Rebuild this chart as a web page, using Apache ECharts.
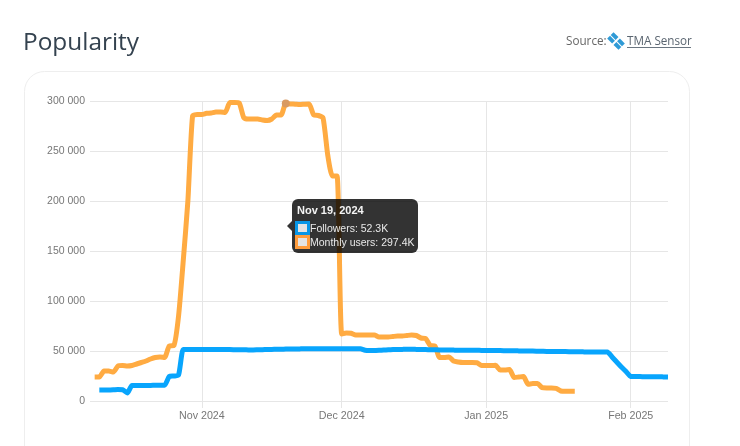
<!DOCTYPE html>
<html>
<head>
<meta charset="utf-8">
<style>html,body{margin:0;padding:0;background:#fff}#c{width:740px;height:446px}</style>
<script src="https://cdn.jsdelivr.net/npm/echarts@6/dist/echarts.min.js"></script>
</head>
<body>
<div id="c"></div>
<script>
const titleText = 'Popularity';
const sourceLabel = 'Source:';
const sourceName = 'TMA Sensor';
const seriesNames = ['Followers', 'Monthly users'];
const monthTicks = ['2024-11-01', '2024-12-01', '2025-01-01', '2025-02-01'];
const yTicks = [0, 50000, 100000, 150000, 200000, 250000, 300000];
const tipDate = '2024-11-19';
const tipTitle = 'Nov 19, 2024';
const tipFollowers = '52.3K';
const tipUsers = '297.4K';

const followersStart = '2024-10-10';
const followersK = [
  11,11,11,11.2,11.5,11.3,8,15.5,15.5,15.5,15.6,15.6,15.7,15.7,15.7,24.5,25,26,51.5,51.5,51.5,51.6,
  51.6,51.6,51.5,51.5,51.5,51.4,51.4,51.3,51.2,51.2,51.1,51.1,51.2,51.3,51.5,51.6,51.7,51.8,51.9,52,52,52.1,52.2,52.2,52.3,52.3,52.3,52.3,
  52.3,52.2,52.2,52.2,52.2,52.3,52.3,50.8,50.5,50.5,50.7,51,51.2,51.4,51.5,51.6,51.7,51.7,51.6,51.5,51.4,51.3,51.2,51.1,51.1,51,50.9,50.8,50.8,50.7,50.7,
  50.7,50.6,50.6,50.5,50.4,50.4,50.3,50.2,50.2,50.1,50,49.9,49.9,49.8,49.7,49.6,49.6,49.5,49.4,49.4,49.3,49.2,49.2,49.1,49,49,49,49,49,44,39,34,29.5,
  24.5,24.4,24.4,24.3,24.3,24.2,24.2,24.1,24
];

const usersStart = '2024-10-09';
const usersK = [
  24,24,30,30,29,35,35.5,35,35.5,37,38.5,40,42,43.5,44,43.5,55,55.5,85,140,200,285,286.5,
  286.5,287.7,288,289,289,288.5,298.5,298.5,298,283.3,282,282,282,281,280.5,282,286,286,297.4,297,296.8,296.5,296.8,297,286,285.5,283,246,225,225,
  67,68,67.7,66,66,66,66,66,64,64,64,64.5,65,65,65.5,66,65.5,63,62.5,55.5,55,43.5,43.5,44,40,39,38.5,38.5,38.5,38.3,35.5,
  35.5,35.5,35.7,31,31,31.5,23.5,24,24.5,16.7,17.5,17.5,13.3,13,13,12.7,10,9.7,9.7,9.7
];

function pairs(start, values) {
  const t0 = Date.parse(start + 'T00:00:00Z');
  return values.map((v, i) => [t0 + i * 86400000, v * 1000]);
}
const spaced = v => String(v).replace(/\B(?=(\d{3})+$)/g, ' ');
const monthFmt = new Intl.DateTimeFormat('en-US', {month: 'short', year: 'numeric', timeZone: 'UTC'});
const tickTimes = monthTicks.map(d => Date.parse(d + 'T00:00:00Z'));
const tipTime = Date.parse(tipDate + 'T00:00:00Z');
const usersData = pairs(usersStart, usersK);
const tipPoint = usersData.find(p => p[0] === tipTime);

const blue = '#0896e6';
const orange = '#ff9c3c';
const swatch = (c) => '<span style="display:inline-block;width:15px;height:14px;background:' + c +
  ';position:relative;vertical-align:top"><span style="position:absolute;left:3px;top:3px;width:9px;height:8px;background:#e4e4e4"></span></span>';

const chart = echarts.init(document.getElementById('c'), null, {renderer: 'canvas'});
const font = '"Liberation Sans", Arial, sans-serif';
const ui = '"Open Sans", sans-serif';
const iconColor = '#2f9ad6';
chart.setOption({
  animation: false,
  backgroundColor: '#fff',
  color: [blue, orange],
  title: {text: titleText, left: 18, top: 26, textStyle: {fontFamily: ui, fontWeight: 400, fontSize: 24.4, color: '#34424f'}},
  grid: {left: 90, right: 72, top: 101, bottom: 45},
  tooltip: {
    trigger: 'axis', alwaysShowContent: true, transitionDuration: 0, padding: 0, borderWidth: 0,
    backgroundColor: 'rgba(0,0,0,0)', extraCssText: 'box-shadow:none;',
    axisPointer: {type: 'none'},
    position: () => [292, 199],
    formatter: () => '<div style="position:relative;box-sizing:border-box;width:126px;height:54px;background:rgba(0,0,0,.8);border-radius:6px;color:#e8e8e8;font:10.5px/14px ' + font.replace(/"/g, "'") + ';padding:4px 5px">' +
      '<span style="position:absolute;left:-5px;top:22px;border:5px solid transparent;border-left:0;border-right-color:rgba(0,0,0,.8)"></span>' +
      '<div style="font-weight:700;font-size:11px;margin-bottom:4px;color:#f4f4f4">' + tipTitle + '</div>' +
      '<div style="white-space:nowrap;height:14px;margin-left:-2px">' + swatch(blue) + seriesNames[0] + ': ' + tipFollowers + '</div>' +
      '<div style="white-space:nowrap;height:14px;margin-left:-2px">' + swatch(orange) + seriesNames[1] + ': ' + tipUsers + '</div></div>'
  },
  xAxis: {
    type: 'value',
    min: Date.parse('2024-10-08T00:00:00Z'),
    max: Date.parse('2025-02-09T00:00:00Z'),
    axisLine: {show: false},
    axisTick: {show: true, length: 7, customValues: tickTimes, lineStyle: {color: '#e6e6e6'}},
    splitLine: {show: true, lineStyle: {color: '#e6e6e6', width: 1}},
    axisLabel: {customValues: tickTimes, color: '#777', fontFamily: font, fontSize: 10.7, margin: 10, hideOverlap: false,
      formatter: v => monthFmt.format(new Date(v))}
  },
  yAxis: {
    type: 'value', min: 0, max: 300000, interval: 50000,
    axisLine: {show: false}, axisTick: {show: false},
    splitLine: {lineStyle: {color: '#e6e6e6', width: 1}},
    axisLabel: {color: '#777', fontFamily: font, fontSize: 10.5, margin: 5,
      formatter: v => yTicks.includes(v) ? spaced(v) : ''}
  },
  series: [
    {name: seriesNames[0], type: 'line', data: pairs(followersStart, followersK), symbol: 'none', smooth: 0.2,
      lineStyle: {width: 5, color: blue, cap: 'butt', join: 'round'}, z: 3},
    {name: seriesNames[1], type: 'line', data: usersData, symbol: 'none', smooth: 0.2,
      lineStyle: {width: 5, color: orange, cap: 'butt', join: 'round'}, z: 2,
      markPoint: {silent: true, symbol: 'circle', symbolSize: 8, animation: false, label: {show: false},
        itemStyle: {color: '#d99a62'}, data: [{coord: tipPoint}]}}
  ],
  graphic: [
    {type: 'rect', silent: true, z: -10, shape: {x: 24.5, y: 71.5, width: 665, height: 420, r: 20},
      style: {fill: '#fff', stroke: '#eeeeee', lineWidth: 1}},
    {type: 'text', silent: true, left: 566, top: 36, style: {text: sourceLabel, fill: '#666', font: '11.7px ' + ui}},
    {type: 'text', silent: true, left: 627, top: 36, style: {text: sourceName, fill: '#5a6570', font: '11.7px ' + ui}},
    {type: 'line', silent: true, shape: {x1: 627, y1: 47.5, x2: 691, y2: 47.5}, style: {stroke: '#6a7580', lineWidth: 1}},
    {type: 'group', silent: true, x: 616, y: 41, rotation: -Math.PI / 4, children: [
      {type: 'rect', shape: {x: -8, y: -4.5, width: 7, height: 4}, style: {fill: iconColor}},
      {type: 'rect', shape: {x: 1, y: -4.5, width: 7, height: 4}, style: {fill: iconColor}},
      {type: 'rect', shape: {x: -8, y: 0.5, width: 7, height: 4}, style: {fill: iconColor}},
      {type: 'rect', shape: {x: 1, y: 0.5, width: 7, height: 4}, style: {fill: iconColor}}
    ]}
  ]
});
chart.dispatchAction({type: 'showTip', seriesIndex: 1, dataIndex: usersData.indexOf(tipPoint)});
</script>
</body>
</html>
